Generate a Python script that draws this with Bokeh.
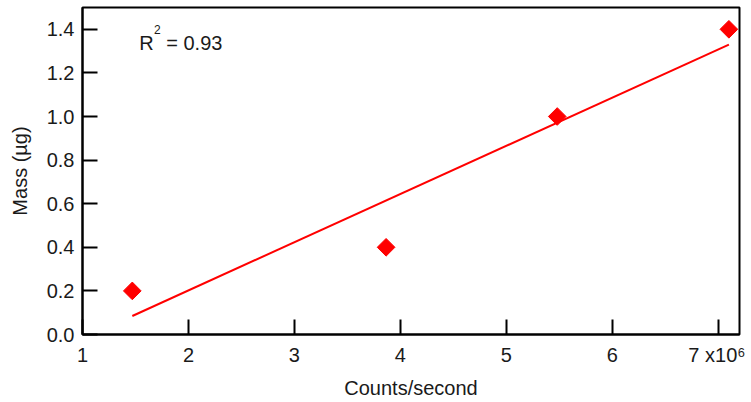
from bokeh.plotting import figure
from bokeh.models import FixedTicker, Label, Range1d
from bokeh.embed import file_html
from bokeh.resources import INLINE

# Data (x in units of 10^6 counts/second)
counts = [1.47, 3.865, 5.48, 7.10]
mass = [0.2, 0.4, 1.0, 1.4]
fit_x = [1.47, 7.10]
fit_y = [0.085, 1.33]
x_ticks = [1, 2, 3, 4, 5, 6, 7]
y_ticks = [0.0, 0.2, 0.4, 0.6, 0.8, 1.0, 1.2, 1.4]
r2_text = "= 0.93"

FONT = "Liberation Sans"
RED = "#ff0000"
TXT = "#1a1a1a"

p = figure(width=745, height=401, output_backend="svg", toolbar_location=None,
           x_range=Range1d(1, 7.2), y_range=Range1d(0, 1.5),
           min_border_left=82, min_border_right=6, min_border_top=7, min_border_bottom=67)
p.grid.visible = False
p.outline_line_color = "black"
p.outline_line_width = 2
p.outline_line_alpha = 1
p.background_fill_color = "white"
p.border_fill_color = "white"

p.line(fit_x, fit_y, line_color=RED, line_width=2)
p.scatter(counts, mass, marker="square", angle=0.785398, size=12.5,
          fill_color=RED, line_color=RED)

for ax in (p.xaxis[0], p.yaxis[0]):
    ax.axis_line_width = 2
    ax.axis_line_color = "black"
    ax.major_tick_in = 15
    ax.major_tick_out = 0
    ax.major_tick_line_width = 2
    ax.major_tick_line_color = "black"
    ax.minor_tick_line_color = None
    ax.major_label_text_font = FONT
    ax.major_label_text_font_size = "20px"
    ax.major_label_text_color = TXT
    ax.axis_label_text_font = FONT
    ax.axis_label_text_font_size = "20px"
    ax.axis_label_text_font_style = "normal"
    ax.axis_label_text_color = TXT

p.xaxis.ticker = FixedTicker(ticks=x_ticks)
p.yaxis.ticker = FixedTicker(ticks=y_ticks)
p.xaxis.major_label_overrides = {7: "7 x10\u2076"}
p.yaxis.major_label_overrides = {t: f"{t:.1f}" for t in y_ticks}
p.xaxis.axis_label = "Counts/second"
p.yaxis.axis_label = "Mass (\u00b5g)"
p.xaxis.major_label_standoff = 9
p.yaxis.major_label_standoff = 8
p.xaxis.axis_label_standoff = 8
p.yaxis.axis_label_standoff = 13

p.add_layout(Label(x=1.535, y=1.335, text="R", text_font=FONT, text_font_size="20px",
                   text_color=TXT, text_baseline="alphabetic"))
p.add_layout(Label(x=1.675, y=1.398, text="2", text_font=FONT, text_font_size="12px",
                   text_color=TXT, text_baseline="alphabetic"))
p.add_layout(Label(x=1.79, y=1.335, text=r2_text, text_font=FONT, text_font_size="20px",
                   text_color=TXT, text_baseline="alphabetic"))

open("out.html", "w").write(file_html(p, INLINE))
